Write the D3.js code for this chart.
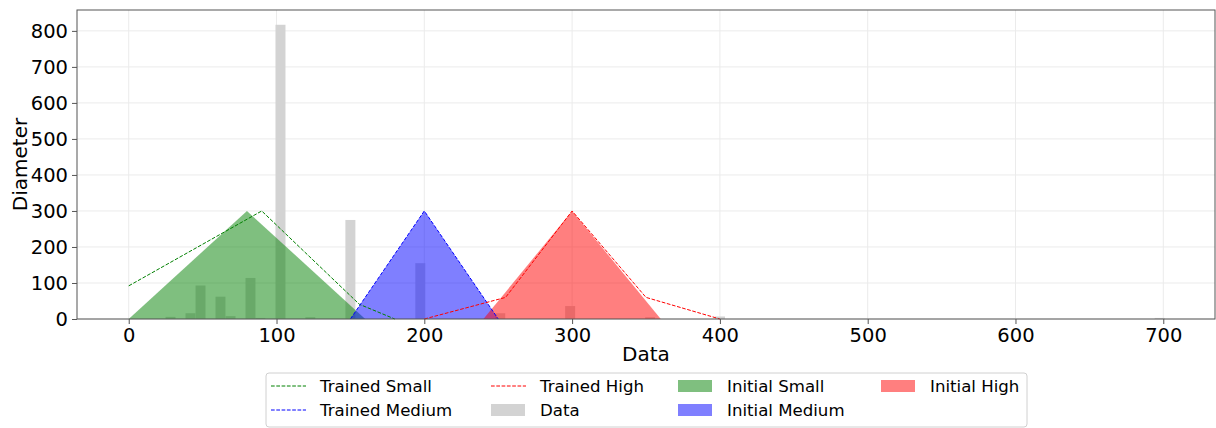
<!DOCTYPE html>
<html>
<head>
<meta charset="utf-8">
<script src="https://cdn.jsdelivr.net/npm/d3@7"></script>
<style>
  html, body { margin: 0; padding: 0; background: #fff; }
  svg { display: block; font-family: "DejaVu Sans", sans-serif; }
</style>
</head>
<body>
<svg id="chart" width="1216" height="428"></svg>
<script>
// ---- data ----
const xTicks = [0, 100, 200, 300, 400, 500, 600, 700];
const yTicks = [0, 100, 200, 300, 400, 500, 600, 700, 800];

// histogram ("Data") – left edges of non-empty bins and their counts
const binStarts = [24.9, 38.4, 45.2, 58.7, 65.5, 79.0, 85.7, 99.3, 119.5, 146.6, 193.9, 248.0, 295.3, 349.4, 396.7, 694.2];
const binCounts = [6, 16, 93, 62, 8, 114, 3, 817, 5, 275, 155, 16, 36, 5, 7, 3];
const binWidth = 6.76;

// trained membership functions (dashed lines)
const trainedSmallX = [0, 90, 156, 180];
const trainedSmallY = [92, 300, 41, 0];
const trainedMediumX = [150, 200, 250];
const trainedMediumY = [0, 300, 0];
const trainedHighX = [200, 255, 300, 350, 400];
const trainedHighY = [0, 60, 300, 60, 0];

// initial membership functions (filled triangles)
const initialSmallX = [0, 80, 160];
const initialSmallY = [0, 300, 0];
const initialMediumX = [150, 200, 250];
const initialMediumY = [0, 300, 0];
const initialHighX = [240, 300, 360];
const initialHighY = [0, 300, 0];

// ---- layout ----
const svg = d3.select("#chart");
const L = 77, R = 1215, T = 10, B = 319;
const x = d3.scaleLinear().domain([-35, 735]).range([L, R]);
const y = d3.scaleLinear().domain([0, 858]).range([B, T]);

// grid
const grid = svg.append("g");
grid.selectAll("line.gx").data(xTicks).enter().append("line")
  .attr("x1", d => x(d)).attr("x2", d => x(d)).attr("y1", T).attr("y2", B)
  .attr("stroke", "#ebebeb").attr("stroke-width", 1);
grid.selectAll("line.gy").data(yTicks).enter().append("line")
  .attr("x1", L).attr("x2", R).attr("y1", d => y(d)).attr("y2", d => y(d))
  .attr("stroke", "#ebebeb").attr("stroke-width", 1);

const plot = svg.append("g");

// histogram bars
plot.selectAll("rect.bar").data(binStarts.map((s, i) => ({s, c: binCounts[i]})))
  .enter().append("rect")
  .attr("x", d => x(d.s)).attr("width", d => x(d.s + binWidth) - x(d.s))
  .attr("y", d => y(d.c)).attr("height", d => y(0) - y(d.c))
  .attr("fill", "#d3d3d3");

// filled initial triangles
const area = d3.area().x(d => x(d[0])).y0(y(0)).y1(d => y(d[1]));
const areas = [
  [initialSmallX, initialSmallY, "green"],
  [initialMediumX, initialMediumY, "blue"],
  [initialHighX, initialHighY, "red"]
];
areas.forEach(([xs, ys, c]) => {
  plot.append("path").datum(xs.map((v, i) => [v, ys[i]]))
    .attr("d", area).attr("fill", c).attr("fill-opacity", 0.5);
});

// dashed trained lines
const line = d3.line().x(d => x(d[0])).y(d => y(d[1]));
const lines = [
  [trainedSmallX, trainedSmallY, "green"],
  [trainedMediumX, trainedMediumY, "blue"],
  [trainedHighX, trainedHighY, "red"]
];
lines.forEach(([xs, ys, c]) => {
  plot.append("path").datum(xs.map((v, i) => [v, ys[i]]))
    .attr("d", line).attr("fill", "none").attr("stroke", c)
    .attr("stroke-width", 1).attr("stroke-dasharray", "3.7,1.6");
});

// frame
svg.append("rect").attr("x", L).attr("y", T).attr("width", R - L).attr("height", B - T)
  .attr("fill", "none").attr("stroke", "#555").attr("stroke-width", 1);

// axes
const xAxis = svg.append("g").attr("transform", `translate(0,${B})`)
  .call(d3.axisBottom(x).tickValues(xTicks).tickSize(5).tickPadding(4).tickFormat(d3.format("d")));
const yAxis = svg.append("g").attr("transform", `translate(${L},0)`)
  .call(d3.axisLeft(y).tickValues(yTicks).tickSize(5).tickPadding(4).tickFormat(d3.format("d")));
[xAxis, yAxis].forEach(a => {
  a.select(".domain").remove();
  a.selectAll(".tick line").attr("stroke", "#555");
  a.selectAll(".tick text").attr("font-size", 19.5).attr("font-family", "DejaVu Sans").attr("fill", "#000");
});

// axis labels
svg.append("text").attr("x", (L + R) / 2).attr("y", 361).attr("text-anchor", "middle")
  .attr("font-size", 20).text("Data");
svg.append("text").attr("transform", `translate(27,${(T + B) / 2}) rotate(-90)`)
  .attr("text-anchor", "middle").attr("font-size", 20).text("Diameter");

// legend
const lg = svg.append("g");
lg.append("rect").attr("x", 266).attr("y", 373).attr("width", 761).attr("height", 54)
  .attr("rx", 3).attr("fill", "#fff").attr("stroke", "#d0d0d0");
const legendItems = [
  {label: "Trained Small", type: "line", color: "green", col: 0, row: 0},
  {label: "Trained Medium", type: "line", color: "blue", col: 0, row: 1},
  {label: "Trained High", type: "line", color: "red", col: 1, row: 0},
  {label: "Data", type: "patch", color: "#d3d3d3", op: 1, col: 1, row: 1},
  {label: "Initial Small", type: "patch", color: "green", op: 0.5, col: 2, row: 0},
  {label: "Initial Medium", type: "patch", color: "blue", op: 0.5, col: 2, row: 1},
  {label: "Initial High", type: "patch", color: "red", op: 0.5, col: 3, row: 0}
];
const colX = [271, 491, 678, 881];
const rowY = [386, 410];
legendItems.forEach(it => {
  const x0 = colX[it.col], yc = rowY[it.row];
  if (it.type === "line") {
    lg.append("line").attr("x1", x0).attr("x2", x0 + 35).attr("y1", yc).attr("y2", yc)
      .attr("stroke", it.color).attr("stroke-width", 1).attr("stroke-dasharray", "3.7,1.6");
  } else {
    lg.append("rect").attr("x", x0).attr("y", yc - 6).attr("width", 34).attr("height", 12)
      .attr("fill", it.color).attr("fill-opacity", it.op);
  }
  lg.append("text").attr("x", x0 + 49).attr("y", yc).attr("dy", "0.35em")
    .attr("font-size", 16.6).text(it.label);
});
</script>
</body>
</html>
